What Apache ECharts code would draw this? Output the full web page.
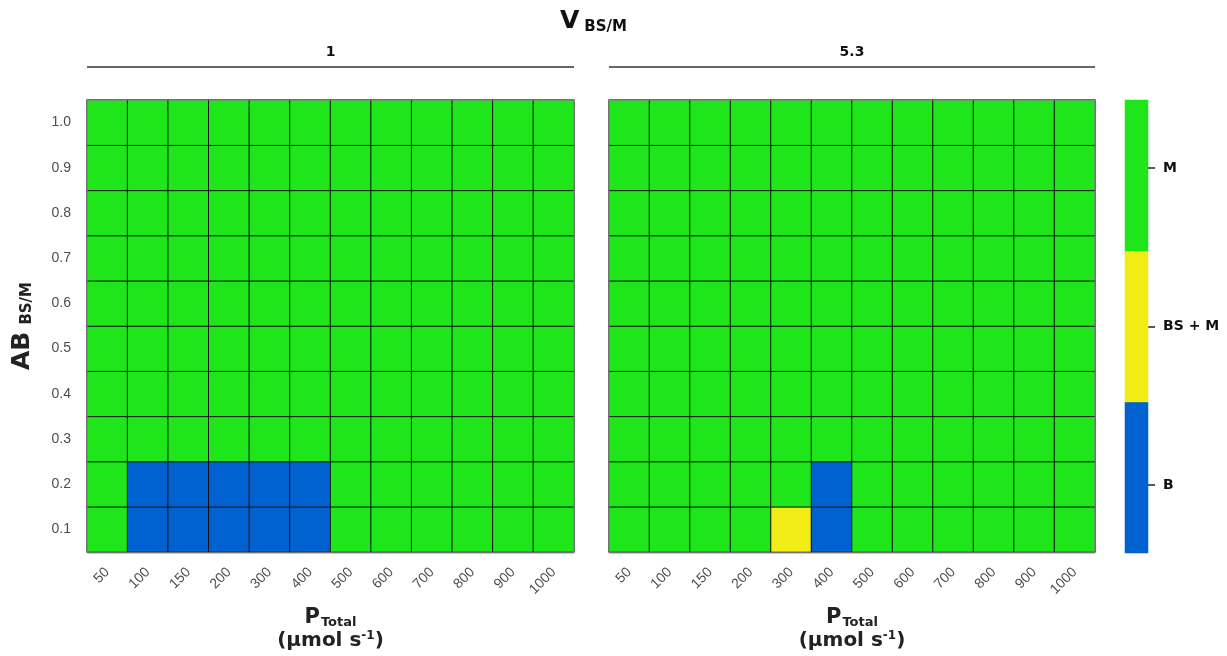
<!DOCTYPE html>
<html><head><meta charset="utf-8">
<script src="https://cdn.jsdelivr.net/npm/echarts@6/dist/echarts.min.js"></script>
<style>html,body{margin:0;padding:0;background:#fff}#c{width:1227px;height:656px}</style>
</head><body><div id="c"></div>
<script>
// ---- data ----
const pTotal = ['50','100','150','200','300','400','500','600','700','800','900','1000'];
const abBSM = ['0.1','0.2','0.3','0.4','0.5','0.6','0.7','0.8','0.9','1.0'];
const regimes = ['B','BS + M','M'];
const vBSM = ['1','5.3'];
const regimeColors = ['#0061d0','#f2ec16','#1ee61a'];
// rows from AB = 0.1 upward, one entry per P_Total column
const panelV1 = [
  ['M','B','B','B','B','B','M','M','M','M','M','M'],
  ['M','B','B','B','B','B','M','M','M','M','M','M'],
  ['M','M','M','M','M','M','M','M','M','M','M','M'],
  ['M','M','M','M','M','M','M','M','M','M','M','M'],
  ['M','M','M','M','M','M','M','M','M','M','M','M'],
  ['M','M','M','M','M','M','M','M','M','M','M','M'],
  ['M','M','M','M','M','M','M','M','M','M','M','M'],
  ['M','M','M','M','M','M','M','M','M','M','M','M'],
  ['M','M','M','M','M','M','M','M','M','M','M','M'],
  ['M','M','M','M','M','M','M','M','M','M','M','M']
];
const panelV53 = [
  ['M','M','M','M','BS + M','B','M','M','M','M','M','M'],
  ['M','M','M','M','M','B','M','M','M','M','M','M'],
  ['M','M','M','M','M','M','M','M','M','M','M','M'],
  ['M','M','M','M','M','M','M','M','M','M','M','M'],
  ['M','M','M','M','M','M','M','M','M','M','M','M'],
  ['M','M','M','M','M','M','M','M','M','M','M','M'],
  ['M','M','M','M','M','M','M','M','M','M','M','M'],
  ['M','M','M','M','M','M','M','M','M','M','M','M'],
  ['M','M','M','M','M','M','M','M','M','M','M','M'],
  ['M','M','M','M','M','M','M','M','M','M','M','M']
];
// colour-bar tick positions (regime code 1..3 on a continuous bar)
const legendTicks = [1,2,3];

function toCells(panel){
  const out=[];
  panel.forEach((row,yi)=>row.forEach((r,xi)=>out.push([xi,yi,regimes.indexOf(r)])));
  return out;
}

const boldFont = 'DejaVu Sans';
const tickFont = 'Liberation Sans';

const panels = [
  {left:87, width:487, label:vBSM[0], data:toCells(panelV1)},
  {left:609, width:486, label:vBSM[1], data:toCells(panelV53)}
];

const grids=[], xAxes=[], yAxes=[], series=[], graphics=[];
panels.forEach((p,i)=>{
  grids.push({left:p.left, width:p.width, top:100, height:453});
  xAxes.push({
    type:'category', gridIndex:i, data:pTotal,
    axisLine:{show:false}, axisTick:{show:false}, splitLine:{show:false},
    axisLabel:{rotate:45, margin:18, color:'#4d4d4d', fontSize:14, fontFamily:tickFont, interval:0},
    name:'{p|P}{s|Total}\n{u|(µmol s}{e|-1}{u|)}', nameLocation:'middle', nameGap:54,
    nameTextStyle:{color:'#222', align:'center', rich:{
      p:{fontSize:21, fontWeight:'bold', fontFamily:boldFont, color:'#222', lineHeight:23},
      s:{fontSize:13, fontWeight:'bold', fontFamily:boldFont, color:'#222', padding:[10,0,0,1], lineHeight:23},
      u:{fontSize:20, fontWeight:'bold', fontFamily:boldFont, color:'#222', lineHeight:23},
      e:{fontSize:12, fontWeight:'bold', fontFamily:boldFont, color:'#222', padding:[0,0,9,0], lineHeight:23}
    }}
  });
  yAxes.push({
    type:'category', gridIndex:i, data:abBSM,
    axisLine:{show:false}, axisTick:{show:false}, splitLine:{show:false},
    axisLabel:{show:i===0, margin:16, color:'#4d4d4d', fontSize:14, fontFamily:tickFont},
    name: i===0 ? '{a|AB}{g| }{s|BS/M}' : '', nameLocation:'middle', nameGap:52, nameRotate:90,
    nameTextStyle:{rich:{
      a:{fontSize:25, fontWeight:'bold', fontFamily:boldFont, color:'#222'},
      g:{fontSize:14, width:7},
      s:{fontSize:15, fontWeight:'bold', fontFamily:boldFont, color:'#222', padding:[10,0,0,0]}
    }}
  });
  series.push({
    type:'heatmap', xAxisIndex:i, yAxisIndex:i, data:p.data,
    itemStyle:{borderColor:'#111', borderWidth:1},
    emphasis:{disabled:true}
  });
  graphics.push({type:'line', shape:{x1:p.left, y1:67, x2:p.left+p.width, y2:67}, style:{stroke:'#333', lineWidth:1.5}});
  graphics.push({type:'text', x:p.left+p.width/2, y:52, style:{text:p.label, font:'bold 14px "DejaVu Sans"', fill:'#111', align:'center', verticalAlign:'middle'}});
  graphics.push({type:'rect', shape:{x:p.left, y:100, width:p.width, height:453}, style:{fill:'none', stroke:'#9a9a9a', lineWidth:1}, z:100});
});

// colour legend as a one-column heatmap
grids.push({left:1125, width:23, top:100, height:453});
xAxes.push({type:'category', gridIndex:2, data:['r'], show:false});
yAxes.push({type:'category', gridIndex:2, data:regimes, show:false});
yAxes.push({
  type:'value', gridIndex:2, position:'right', min:0.57, max:3.43,
  axisLine:{show:false}, splitLine:{show:false},
  axisTick:{show:true, length:7, customValues:legendTicks, lineStyle:{color:'#222', width:1.5}},
  axisLabel:{margin:15, customValues:legendTicks, formatter:(v)=>regimes[Math.round(v)-1] || '',
    color:'#111', fontSize:14, fontWeight:'bold', fontFamily:boldFont}
});
series.push({type:'heatmap', xAxisIndex:2, yAxisIndex:2, data:regimes.map((r,k)=>[0,k,k]), emphasis:{disabled:true}});

const chart = echarts.init(document.getElementById('c'), null, {renderer:'canvas'});
chart.setOption({
  animation:false,
  backgroundColor:'#fff',
  title:{left:555, top:3, text:'{v|V} {s|BS/M}', textStyle:{rich:{
    v:{fontSize:25, fontWeight:'bold', fontFamily:boldFont, color:'#111'},
    s:{fontSize:15, fontWeight:'bold', fontFamily:boldFont, color:'#111', padding:[12,0,0,0]}
  }}},
  grid:grids, xAxis:xAxes, yAxis:yAxes, series:series,
  visualMap:{type:'piecewise', show:false, dimension:2, seriesIndex:[0,1,2],
    pieces:regimes.map((r,k)=>({value:k, color:regimeColors[k]}))},
  graphic:graphics
});
</script></body></html>
